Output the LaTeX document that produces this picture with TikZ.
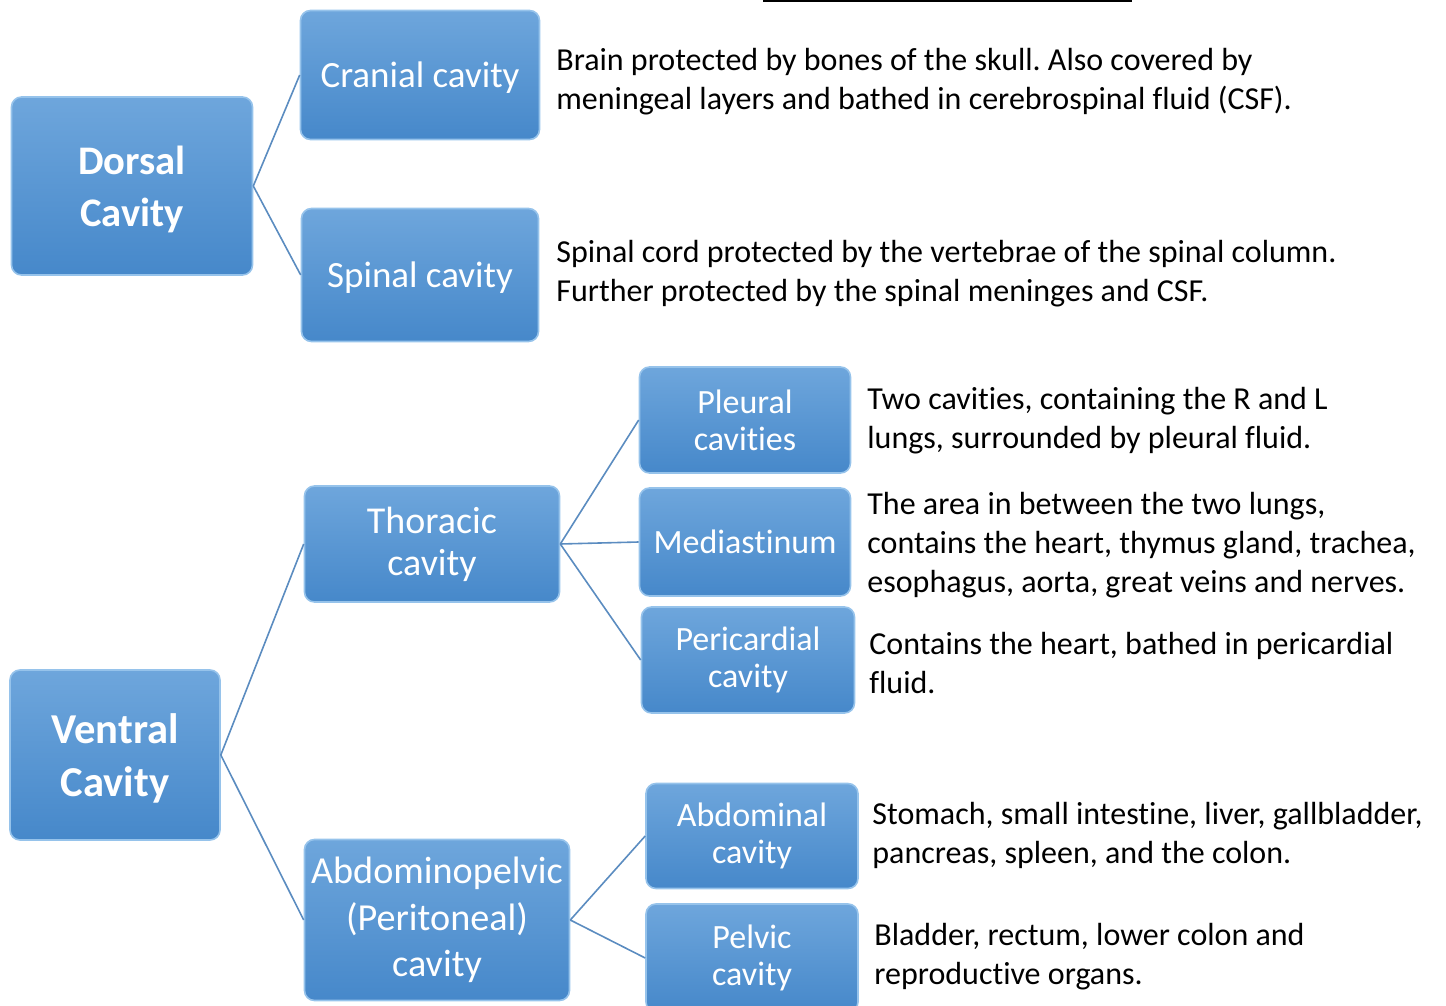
\documentclass[tikz,border=0pt]{standalone}
\usepackage{fontspec}
\setmainfont{Carlito}[Ligatures=NoCommon]
\usepackage{tikz}
\usetikzlibrary{shadings}
\definecolor{boxTop}{RGB}{110,166,220}
\definecolor{boxBottom}{RGB}{70,136,202}
\definecolor{boxLine}{RGB}{150,195,235}
\definecolor{linkLine}{RGB}{91,140,192}
\frenchspacing

\newcommand{\fs}[2]{\fontsize{#1}{#2}\selectfont}

\begin{document}
\begin{tikzpicture}[
  x=0.5pt,
  y=-0.5pt,
  cavity/.style={
    draw=boxLine,
    line width=0.8pt,
    rounded corners=5pt,
    top color=boxTop,
    bottom color=boxBottom,
    text=white,
    align=center,
    inner sep=0pt,
  },
  note/.style={
    anchor=west,
    align=left,
    inner sep=0pt,
    font=\fs{16}{19.5},
  },
  link/.style={
    draw=linkLine,
    line width=0.8pt,
  }
]
\useasboundingbox (0,0) rectangle (1446,1006);
\draw[line width=0.6pt] (763,1) coordinate (rulea) -- (1132,1) coordinate (ruleb);

% dorsal side
\node[cavity,text depth=0pt,minimum width=120.5pt,minimum height=89pt,font=\fs{20.3}{26}\bfseries]
  (dorsal) at (132,186) {Dorsal\\Cavity};
\node[cavity,text depth=0pt,minimum width=119.5pt,minimum height=64.5pt,font=\fs{18.5}{20}]
  (cranial) at (420,75) {Cranial cavity};
\node[cavity,text depth=0pt,minimum width=118.5pt,minimum height=66.5pt,font=\fs{18.5}{20}]
  (spinal) at (420,275) {Spinal cavity};

% ventral side
\node[cavity,text depth=0pt,minimum width=105pt,minimum height=85pt,font=\fs{21.3}{26.5}\bfseries]
  (ventral) at (115,755) {Ventral\\Cavity};
\node[cavity,minimum width=127.5pt,minimum height=58pt,font=\fs{19}{21}]
  (thoracic) at (432,544) {Thoracic\\cavity};
\node[cavity,minimum width=132.5pt,minimum height=80.5pt,font=\fs{19.1}{23.3}]
  (abdpelvic) at (437,920) {Abdominopelvic\\(Peritoneal)\\cavity};
\node[cavity,minimum width=105.5pt,minimum height=53pt,font=\fs{17}{18.5}]
  (pleural) at (745,420) {Pleural\\cavities};
\node[cavity,minimum width=105.5pt,minimum height=54pt,font=\fs{17}{18.5}]
  (mediast) at (745,542) {Mediastinum};
\node[cavity,minimum width=106.5pt,minimum height=53pt,font=\fs{17}{18.5}]
  (pericard) at (748,660) {Pericardial\\cavity};
\node[cavity,minimum width=106pt,minimum height=52.5pt,font=\fs{17}{18.5}]
  (abdominal) at (752,836) {Abdominal\\cavity};
\node[cavity,minimum width=106pt,minimum height=54pt,font=\fs{17}{18.5}]
  (pelvic) at (752,958) {Pelvic\\cavity};

% connectors
\foreach \a/\b in {dorsal/cranial,dorsal/spinal,ventral/thoracic,ventral/abdpelvic,
  thoracic/pleural,thoracic/mediast,thoracic/pericard,
  abdpelvic/abdominal,abdpelvic/pelvic} {
  \draw[link] (\a.east) -- (\b.west);
}

% descriptions
\node[note] (cranialtxt) at (556,82)
  {Brain protected by bones of the skull. Also covered by\\meningeal layers and bathed in cerebrospinal fluid (CSF).};
\node[note] (spinaltxt) at (556,274)
  {Spinal cord protected by the vertebrae of the spinal column.\\Further protected by the spinal meninges and CSF.};
\node[note] (pleuraltxt) at (867,421)
  {Two cavities, containing the R and L\\lungs, surrounded by pleural fluid.};
\node[note] (mediasttxt) at (867,545)
  {The area in between the two lungs,\\contains the heart, thymus gland, trachea,\\esophagus, aorta, great veins and nerves.};
\node[note] (pericardtxt) at (869,663)
  {Contains the heart, bathed in pericardial\\fluid.};
\node[note] (abdominaltxt) at (872,835)
  {Stomach, small intestine, liver, gallbladder,\\pancreas, spleen, and the colon.};
\node[note] (pelvictxt) at (874,957)
  {Bladder, rectum, lower colon and\\reproductive organs.};
\end{tikzpicture}
\end{document}
